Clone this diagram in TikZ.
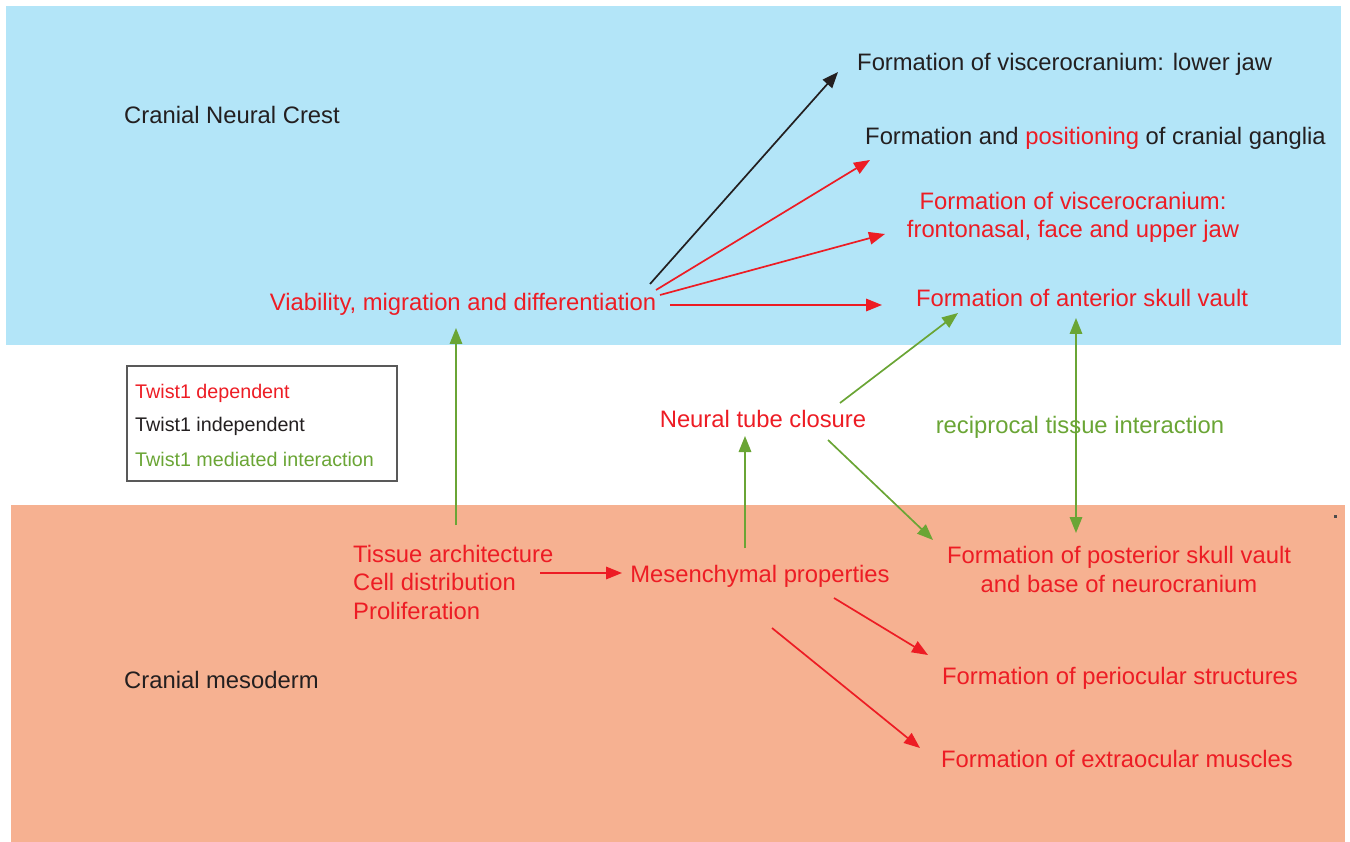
\documentclass[tikz,border=0pt]{standalone}
\usepackage{fontspec}
\setmainfont{Liberation Sans}
\usetikzlibrary{arrows.meta}
\definecolor{bgblue}{RGB}{179,229,248}
\definecolor{bgorange}{RGB}{246,177,145}
\definecolor{tred}{RGB}{237,28,36}
\definecolor{tgreen}{RGB}{106,165,53}
\definecolor{tblack}{RGB}{35,31,32}
\tikzset{
  lbl/.style={inner sep=0pt, yshift=-2pt, font=\fontsize{23.8}{28.5}\selectfont},
  leg/.style={inner sep=0pt, yshift=-2pt, anchor=west, font=\fontsize{19.7}{23}\selectfont},
  arr/.style={line width=1.7pt, -{Triangle[length=16pt,width=12.5pt]}},
  darr/.style={line width=1.7pt, {Triangle[length=16pt,width=12.5pt]}-{Triangle[length=16pt,width=12.5pt]}},
}
\begin{document}
\begin{tikzpicture}[x=1pt,y=-1pt]
\useasboundingbox (0,0) rectangle (1350,842);
\fill[bgblue] (6,6) rectangle (1341,345);
\fill[bgorange] (11,505) rectangle (1345,842);
\fill[black!70] (1334,515) rectangle (1337,518);
% legend
\draw[black!65, line width=1.5pt] (127,366) rectangle (397,481);
\node[leg, text=tred] (l1) at (135,391) {Twist1 dependent};
\node[leg, text=tblack] (l2) at (135,424) {Twist1 independent};
\node[leg, text=tgreen] (l3) at (135,457) {Twist1 mediated interaction};
% labels
\node[lbl, anchor=west, text=tblack] (cnc) at (124,113) {Cranial Neural Crest};
\node[lbl, anchor=west, text=tblack] (cm) at (124,678) {Cranial mesoderm};
\node[lbl, anchor=west, text=tblack] (lj) at (857,62) {Formation of viscerocranium: lower jaw};
\node[lbl, anchor=west, text=tblack] (cg) at (865,136) {Formation and \textcolor{tred}{positioning} of cranial ganglia};
\node[lbl, align=center, text=tred] (fu) at (1073,215.5) {Formation of viscerocranium:\\frontonasal, face and upper jaw};
\node[lbl, text=tred] (asv) at (1082,296) {Formation of anterior skull vault};
\node[lbl, text=tred] (via) at (463,302) {Viability, migration and differentiation};
\node[lbl, text=tred] (ntc) at (763,417) {Neural tube closure};
\node[lbl, text=tgreen] (rti) at (1080,425) {reciprocal tissue interaction};
\node[lbl, align=left, anchor=west, text=tred] (tis) at (353,580) {Tissue architecture\\Cell distribution\\Proliferation};
\node[lbl, text=tred] (mes) at (760,574) {Mesenchymal properties};
\node[lbl, align=center, text=tred] (psv) at (1119,567.5) {Formation of posterior skull vault\\and base of neurocranium};
\node[lbl, text=tred] (peri) at (1120,676) {Formation of periocular structures};
\node[lbl, text=tred] (extra) at (1117,757) {Formation of extraocular muscles};
% connector end points
\coordinate (v1) at (650,284); \coordinate (lj1) at (838,72);
\coordinate (v2) at (656,290); \coordinate (cg1) at (870,160);
\coordinate (v3) at (660,295); \coordinate (fu1) at (885,234);
\coordinate (v4) at (670,305); \coordinate (asv1) at (882,305);
\coordinate (t1) at (456,525); \coordinate (via1) at (456,328);
\coordinate (m1) at (745,548); \coordinate (n1) at (745,436);
\coordinate (n2) at (840,403); \coordinate (asv2) at (958,313);
\coordinate (n3) at (828,440); \coordinate (psv1) at (933,540);
\coordinate (asv3) at (1076,318); \coordinate (psv2) at (1076,533);
\coordinate (t2) at (540,573); \coordinate (m2) at (622,573);
\coordinate (m3) at (834,598); \coordinate (peri1) at (928,655);
\coordinate (m4) at (772,628); \coordinate (extra1) at (920,748);
% connectors
\draw[arr, tblack] (v1) -- (lj1);
\draw[arr, tred] (v2) -- (cg1);
\draw[arr, tred] (v3) -- (fu1);
\draw[arr, tred] (v4) -- (asv1);
\draw[arr, tgreen] (t1) -- (via1);
\draw[arr, tgreen] (m1) -- (n1);
\draw[arr, tgreen] (n2) -- (asv2);
\draw[arr, tgreen] (n3) -- (psv1);
\draw[darr, tgreen] (asv3) -- (psv2);
\draw[arr, tred] (t2) -- (m2);
\draw[arr, tred] (m3) -- (peri1);
\draw[arr, tred] (m4) -- (extra1);
\end{tikzpicture}
\end{document}
